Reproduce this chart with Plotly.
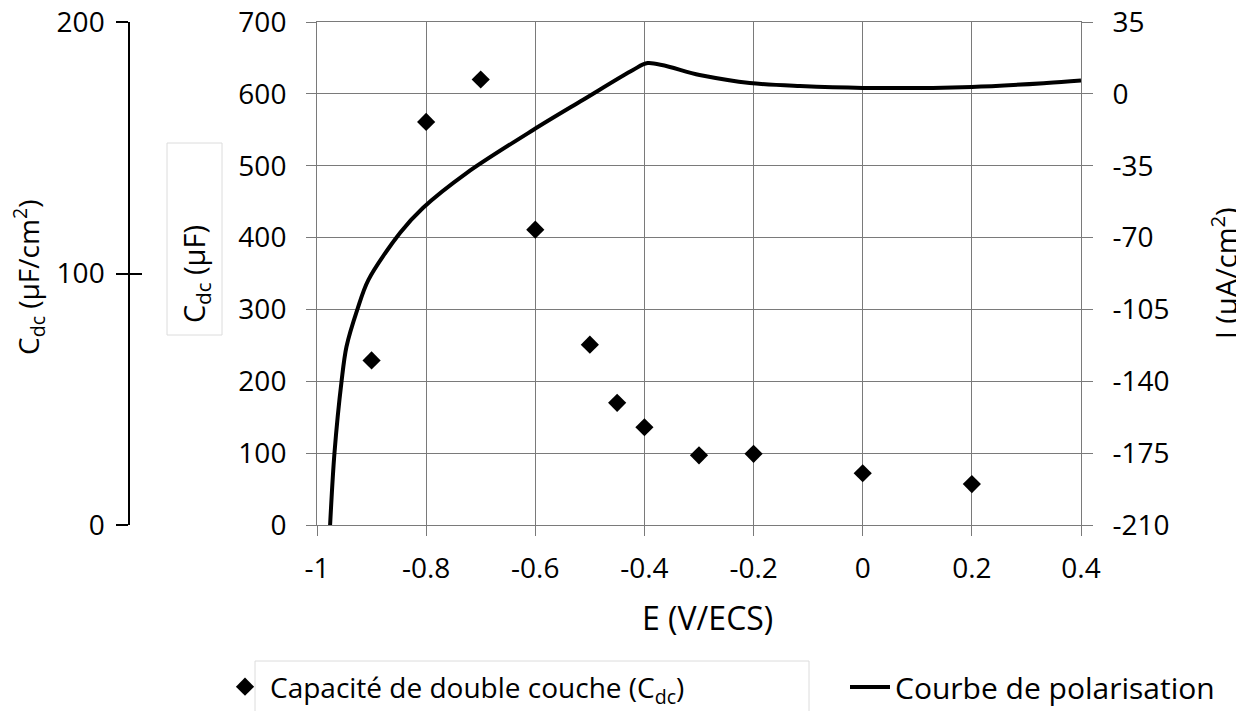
import plotly.graph_objects as go

# capacité de double couche (µF)
e_cdc = [-0.9, -0.8, -0.7, -0.6, -0.5, -0.45, -0.4, -0.3, -0.2, 0.0, 0.2]
c_dc = [229, 561, 620, 411, 251, 170, 136, 97, 99, 72, 57]

# courbe de polarisation J (µA/cm2)
e_pol = [-0.976, -0.968, -0.955, -0.946, -0.926, -0.906, -0.848, -0.806, -0.726,
         -0.604, -0.513, -0.421, -0.394, -0.299, -0.207, -0.115, 0.0, 0.2, 0.337, 0.4]
j_pol = [-210, -175, -140, -123.2, -105, -90.7, -67.8, -55.6, -38.6,
         -17.6, -3.0, 11.6, 15.0, 9.2, 5.3, 3.8, 2.9, 3.4, 5.3, 6.5]

x_ticks = [-1, -0.8, -0.6, -0.4, -0.2, 0, 0.2, 0.4]
x_labels = ["-1", "-0.8", "-0.6", "-0.4", "-0.2", "0", "0.2", "0.4"]
c_ticks = [0, 100, 200, 300, 400, 500, 600, 700]
j_ticks = [-210, -175, -140, -105, -70, -35, 0, 35]
j_labels = ["-210", "-175", "-140", "-105", "-70", "-35", "0", "35"]
cs_ticks = [0, 100, 200]

# la page html ajoute une marge de 8 px : on travaille en px de l'écran
OFF = 8
W, H = 1244 - OFF, 711 - OFF
T, B = 22, 525          # haut / bas de la zone de tracé (px écran)
L, R = 317, 1081
grid = "#7a7a7a"
font = "Open Sans"


def px(x):
    return (x - OFF) / W


def py(y):
    return (B - y) / (B - T)


fig = go.Figure()

fig.add_trace(go.Scatter(
    x=e_cdc, y=c_dc, mode="markers", name="Capacité de double couche (C<sub>dc</sub>)",
    marker=dict(symbol="diamond", size=14, color="black"),
    legend="legend",
))
fig.add_trace(go.Scatter(
    x=e_pol, y=j_pol, mode="lines", name="Courbe de polarisation",
    line=dict(color="black", width=4, shape="spline", smoothing=0.9),
    yaxis="y2", legend="legend2",
))
# axes supplémentaires à gauche (µF/cm2)
fig.add_trace(go.Scatter(x=[None], y=[None], yaxis="y3", showlegend=False, hoverinfo="skip"))
fig.add_trace(go.Scatter(x=[None], y=[None], yaxis="y4", showlegend=False, hoverinfo="skip"))

tickfont = dict(family=font, size=28, color="black")

fig.update_layout(
    width=W, height=H,
    margin=dict(l=0, r=0, t=T - OFF, b=711 - B, autoexpand=False),
    plot_bgcolor="white", paper_bgcolor="white",
    font=dict(family=font, size=28, color="black"),
    xaxis=dict(
        domain=[px(L), px(R)], range=[-1, 0.4],
        tickvals=x_ticks, ticktext=x_labels, tickfont=tickfont,
        showgrid=True, gridcolor=grid, gridwidth=1,
        ticks="outside", ticklen=10, tickcolor=grid,
        showline=True, linecolor=grid, mirror=True, zeroline=False,
        ticklabelstandoff=8, ticklabeloverflow="allow",
    ),
    yaxis=dict(
        range=[0, 700], tickvals=c_ticks, tickfont=tickfont,
        showgrid=True, gridcolor=grid, gridwidth=1,
        ticks="outside", ticklen=10, tickcolor=grid,
        showline=True, linecolor=grid, mirror=True, zeroline=False,
        ticklabelstandoff=14, ticklabeloverflow="allow",
    ),
    yaxis2=dict(
        range=[-210, 35], tickvals=j_ticks, ticktext=j_labels, tickfont=tickfont,
        overlaying="y", side="right", anchor="x",
        showgrid=False, zeroline=False, showline=False,
        ticks="outside", ticklen=11, tickcolor=grid,
        ticklabelstandoff=14, ticklabeloverflow="allow",
    ),
    yaxis3=dict(
        range=[0, 200], tickvals=cs_ticks, tickfont=tickfont,
        overlaying="y", anchor="free", position=px(129), side="left",
        showgrid=False, zeroline=False, showline=True, linecolor="black", linewidth=1.5,
        ticks="outside", ticklen=12, tickcolor="black", tickwidth=1.5,
        ticklabelstandoff=6, ticklabeloverflow="allow",
    ),
    yaxis4=dict(
        range=[0, 200], tickvals=cs_ticks, showticklabels=False,
        overlaying="y", anchor="free", position=px(129), side="left",
        showgrid=False, zeroline=False, showline=False,
        ticks="inside", ticklen=12, tickcolor="black", tickwidth=1.5,
    ),
    legend=dict(
        x=px(220), y=py(687), xanchor="left", yanchor="middle",
        bgcolor="rgba(0,0,0,0)", font=dict(family=font, size=28, color="black"),
        orientation="h", itemwidth=40,
    ),
    legend2=dict(
        x=px(845), y=py(687), xanchor="left", yanchor="middle",
        bgcolor="rgba(0,0,0,0)", font=dict(family=font, size=30, color="black"),
        orientation="h", itemwidth=40,
    ),
    showlegend=True,
)

# cadre du titre C_dc (µF) et cadre de la légende
fig.add_shape(type="rect", xref="paper", yref="paper",
              x0=px(167), x1=px(222), y0=py(335), y1=py(143),
              line=dict(color="#dcdcdc", width=1), layer="below")
fig.add_shape(type="rect", xref="paper", yref="paper",
              x0=px(255), x1=px(809), y0=py(720), y1=py(661),
              line=dict(color="#dcdcdc", width=1), layer="below")

titles = [
    ("E (V/ECS)", 707, 617, 0, 32),
    ("C<sub>dc</sub> (µF)", 195, 274, -90, 29),
    ("C<sub>dc</sub> (µF/cm<sup>2</sup>)", 28, 278, -90, 28),
    ("J (µA/cm<sup>2</sup>)", 1224, 275, -90, 29),
]
for text, x, y, ang, size in titles:
    fig.add_annotation(text=text, x=px(x), y=py(y), xref="paper", yref="paper",
                       showarrow=False, textangle=ang,
                       font=dict(family=font, size=size, color="black"),
                       xanchor="center", yanchor="middle")

fig.write_html("out.html")
